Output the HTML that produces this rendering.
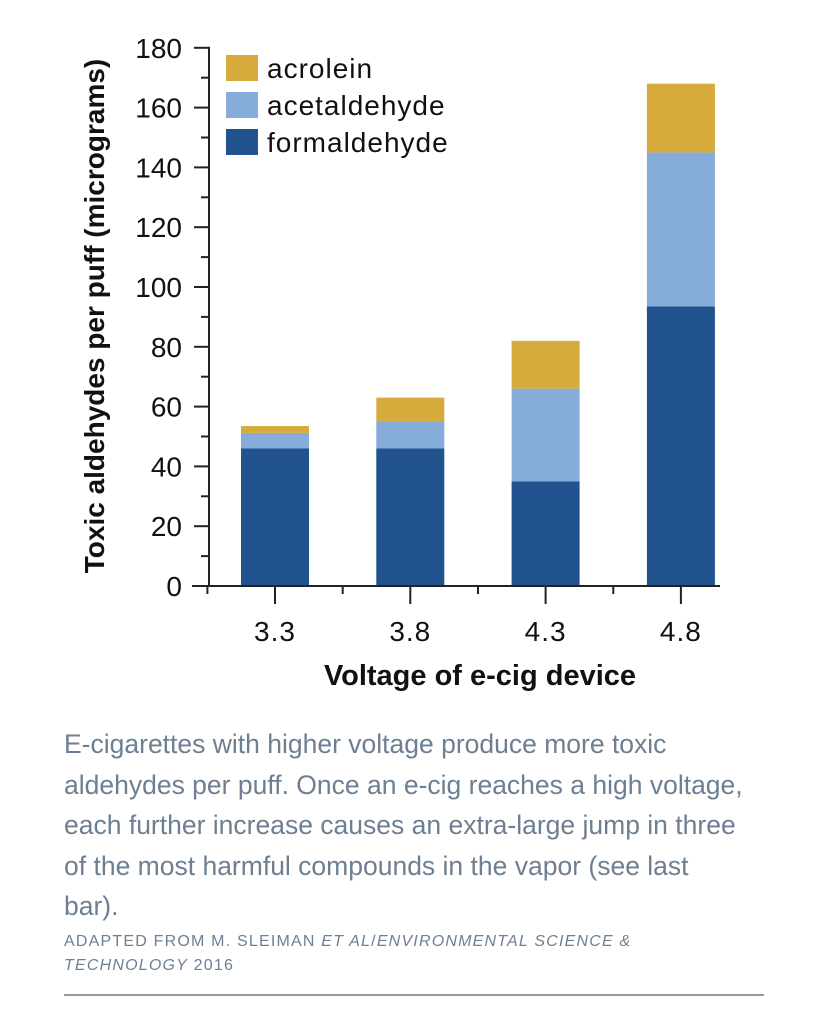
<!DOCTYPE html>
<html><head><meta charset="utf-8"><style>
body{margin:0;background:#fff;width:828px;height:1015px;overflow:hidden;font-family:"Liberation Sans",sans-serif}
.cap{position:absolute;left:64px;top:724px;width:740px;color:#6d7f92;font-size:26.5px;line-height:40.5px;white-space:nowrap;letter-spacing:0}
.src{position:absolute;left:64px;top:930px;color:#6d7f92;font-size:16px;line-height:24px;letter-spacing:1.2px}
.rule{position:absolute;left:64px;top:994px;width:700px;height:2px;background:#999}
</style></head><body>
<svg id="chart" width="828" height="720" style="position:absolute;left:0;top:0" font-family="Liberation Sans, sans-serif"></svg>
<div class="cap">E-cigarettes with higher voltage produce more toxic<br>aldehydes per puff. Once an e-cig reaches a high voltage,<br>each further increase causes an extra-large jump in three<br>of the most harmful compounds in the vapor (see last<br>bar).</div>
<div class="src">ADAPTED FROM M. SLEIMAN <i>ET AL</i>/<i>ENVIRONMENTAL SCIENCE &amp;<br>TECHNOLOGY</i> 2016</div>
<div class="rule"></div>
<script>
const categories=["3.3","3.8","4.3","4.8"];
const formaldehyde=[46,46,35,93.5];
const acetaldehyde=[5.2,9,31,51.5];
const acrolein=[2.3,8,16,23];
const yTicks=[0,20,40,60,80,100,120,140,160,180];
const seriesNames=["acrolein","acetaldehyde","formaldehyde"];
const colors={formaldehyde:"#21548f",acetaldehyde:"#86acd9",acrolein:"#d6ab3c"};
const svg=document.getElementById('chart');
const NS="http://www.w3.org/2000/svg";
function mk(t,a,p){const e=document.createElementNS(NS,t);for(const k in a)e.setAttribute(k,a[k]);(p||svg).appendChild(e);return e;}
const y0=586,pxPer=2.99,axX=209;
const y=v=>y0-v*pxPer;
const x=i=>275+i*135.3;
const bw=68;
categories.forEach((c,i)=>{
  let base=0;
  [["formaldehyde",formaldehyde],["acetaldehyde",acetaldehyde],["acrolein",acrolein]].forEach(([n,arr])=>{
    const v=arr[i];
    const r=mk('rect',{x:x(i)-bw/2,y:y(base+v),width:bw,height:v*pxPer,fill:colors[n]});
    
    
    base+=v;
  });
});
const ax=mk('line',{x1:axX,y1:y(180)-1,x2:axX,y2:y0+1,stroke:"#222","stroke-width":2});

for(let v=10;v<180;v+=20){mk('line',{x1:axX-8,y1:y(v),x2:axX,y2:y(v),stroke:"#222","stroke-width":2});}
yTicks.forEach(v=>{
  mk('line',{x1:axX-15,y1:y(v),x2:axX,y2:y(v),stroke:"#222","stroke-width":2});
  const t=mk('text',{x:axX-27,y:y(v)+10,"text-anchor":"end","font-size":28,fill:"#111"});
  t.textContent=v;
  
});
const xa=mk('line',{x1:192,y1:y0,x2:720,y2:y0,stroke:"#222","stroke-width":2});

categories.forEach((c,i)=>{
  mk('line',{x1:x(i),y1:y0,x2:x(i),y2:y0+18,stroke:"#222","stroke-width":2});
  mk('line',{x1:x(i)-67.6,y1:y0,x2:x(i)-67.6,y2:y0+8,stroke:"#222","stroke-width":2});
  const t=mk('text',{x:x(i),y:y0+55,"text-anchor":"middle","font-size":28,fill:"#111","letter-spacing":1});
  t.textContent=c;
  
});
const xt=mk('text',{x:480,y:685,"text-anchor":"middle","font-size":29,"font-weight":"bold",fill:"#111"});
xt.textContent="Voltage of e-cig device";

const yt=mk('text',{x:0,y:0,"text-anchor":"middle","font-size":28,"font-weight":"bold",fill:"#111",transform:"translate(104,316) rotate(-90)"});
yt.textContent="Toxic aldehydes per puff (micrograms)";

seriesNames.forEach((n,i)=>{
  const g=mk('g',{});
  
  mk('rect',{x:226,y:55+i*37,width:32,height:26,fill:colors[n]},g);
  const t=mk('text',{x:267,y:78+i*37,"font-size":28,fill:"#111","letter-spacing":1},g);
  t.textContent=n;
});
</script>
</body></html>
